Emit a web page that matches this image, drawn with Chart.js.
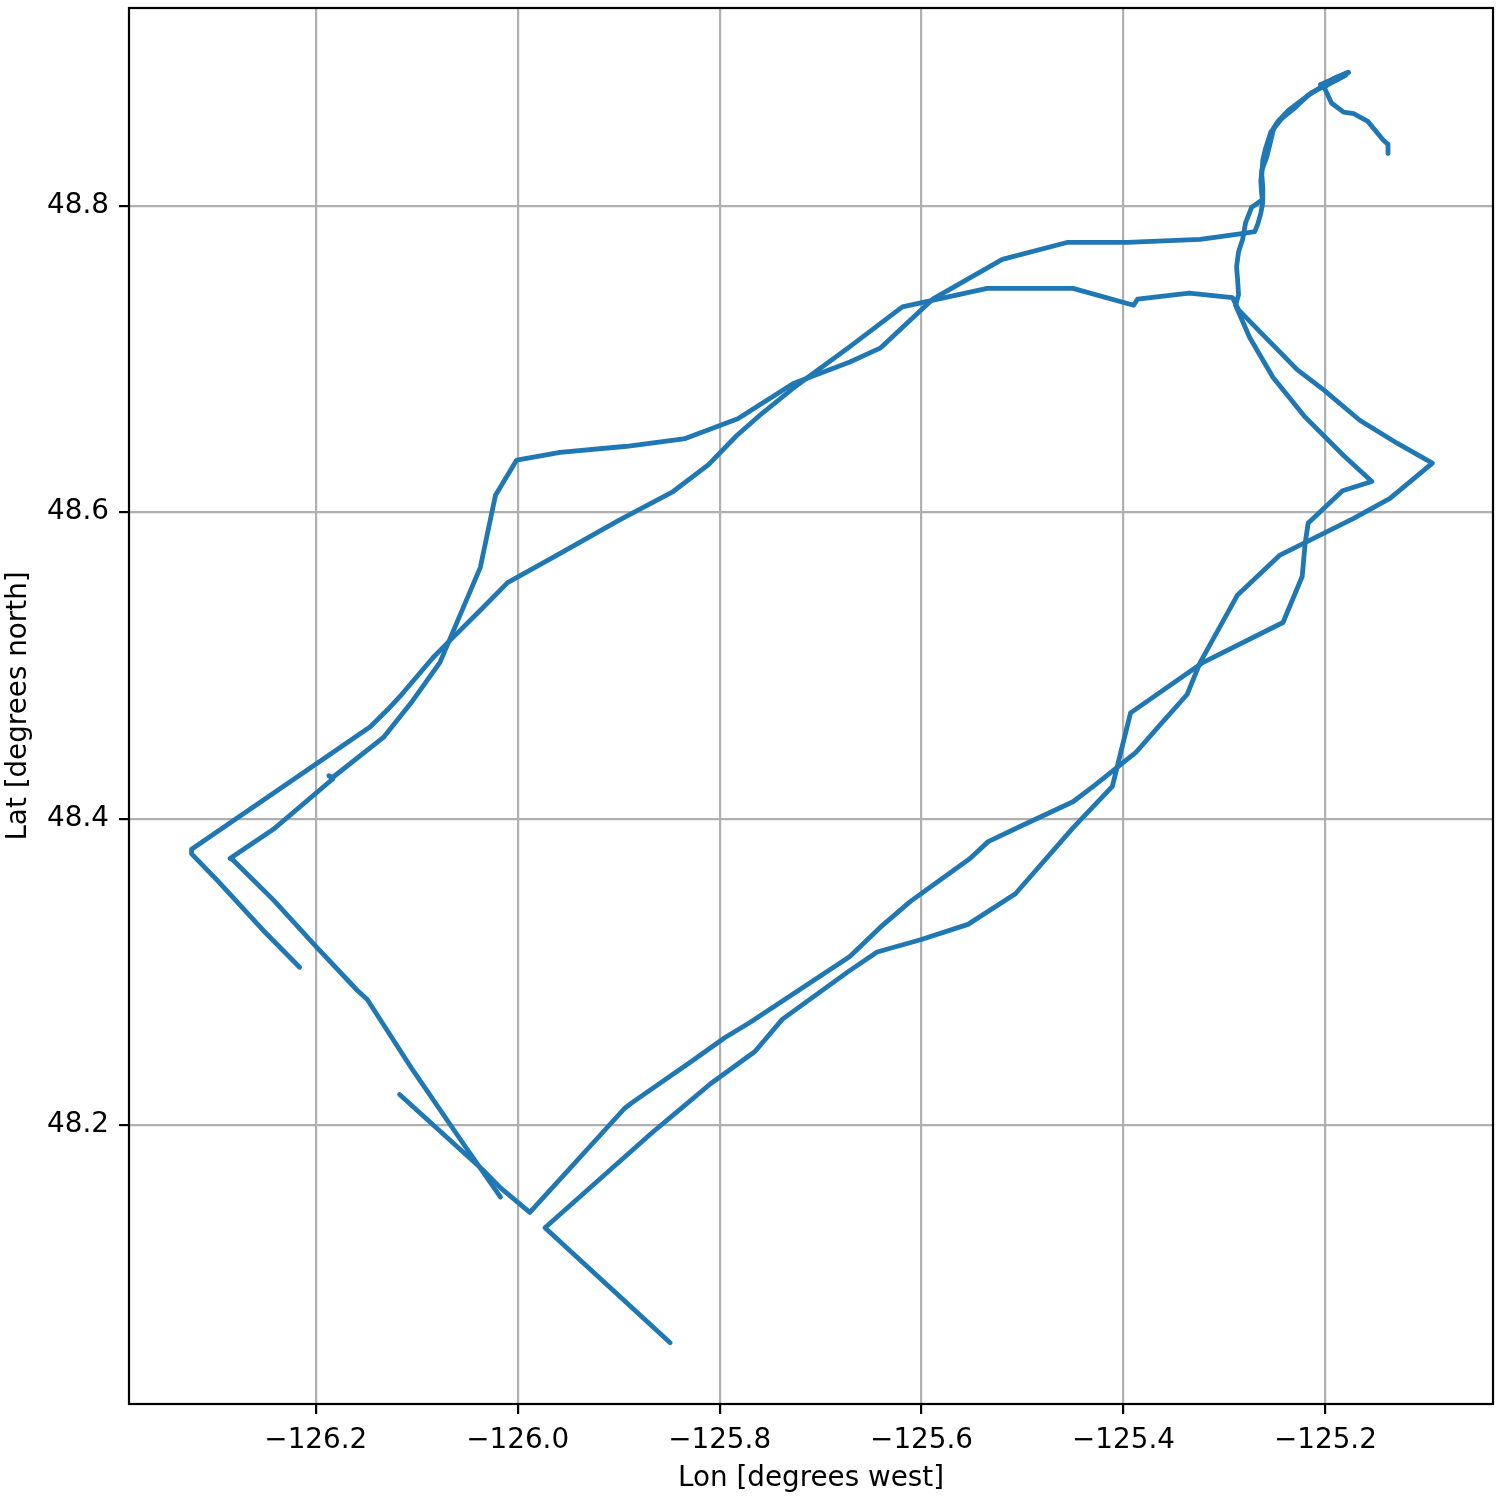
<!DOCTYPE html>
<html>
<head>
<meta charset="utf-8">
<script src="https://cdn.jsdelivr.net/npm/chart.js@4"></script>
<style>
  html, body { margin: 0; padding: 0; background: #fff; }
  canvas { display: block; }
</style>
</head>
<body>
<canvas id="trackChart" width="1500" height="1500"></canvas>
<script>
// ship track, three logged legs (gaps between them)
const lonLeg1 = [-125.178, -125.205, -125.180, -125.203, -125.189, -125.179, -125.201, -125.213, -125.225, -125.237, -125.247,
  -125.251, -125.255, -125.258, -125.263, -125.264, -125.263, -125.262, -125.264, -125.267, -125.270,
  -125.281, -125.324, -125.396, -125.456, -125.520, -125.589, -125.641, -125.671, -125.727, -125.782,
  -125.834, -125.892, -125.958, -126.001, -126.022, -126.037, -126.077, -126.104, -126.133, -126.183,
  -126.187, -126.183, -126.242, -126.285, -126.282, -126.242, -126.199, -126.159, -126.149, -126.104,
  -126.054, -126.017];
const latLeg1 = [48.887, 48.879, 48.885, 48.877, 48.882, 48.886, 48.878, 48.874, 48.868, 48.862, 48.855,
  48.851, 48.840, 48.832, 48.823, 48.816, 48.807, 48.802, 48.795, 48.788, 48.783,
  48.782, 48.778, 48.776, 48.776, 48.765, 48.739, 48.707, 48.698, 48.684, 48.661,
  48.648, 48.643, 48.639, 48.634, 48.611, 48.564, 48.502, 48.477, 48.453, 48.427,
  48.428, 48.426, 48.393, 48.374, 48.373, 48.347, 48.316, 48.288, 48.282, 48.236,
  48.188, 48.153];

const lonLeg2 = [-126.216, -126.252, -126.298, -126.323, -126.323, -126.199, -126.146, -126.129, -126.115, -126.084,
  -126.069, -126.037, -126.010, -125.961, -125.899, -125.847, -125.811, -125.783, -125.757, -125.725,
  -125.671, -125.619, -125.535, -125.450, -125.390, -125.386, -125.335, -125.292, -125.286, -125.228,
  -125.202, -125.166, -125.129, -125.094, -125.136, -125.172, -125.245, -125.287, -125.324, -125.337,
  -125.364, -125.388, -125.428, -125.450, -125.502, -125.534, -125.552, -125.611, -125.641, -125.671,
  -125.740, -125.770, -125.795, -125.827, -125.886, -125.894, -125.988, -126.017, -126.035, -126.117];
const latLeg2 = [48.303, 48.327, 48.360, 48.377, 48.380, 48.436, 48.460, 48.471, 48.481, 48.505,
  48.515, 48.536, 48.554, 48.572, 48.595, 48.613, 48.631, 48.650, 48.665, 48.682,
  48.708, 48.734, 48.746, 48.746, 48.735, 48.739, 48.743, 48.740, 48.732, 48.693,
  48.680, 48.660, 48.645, 48.632, 48.609, 48.596, 48.572, 48.546, 48.502, 48.481,
  48.461, 48.443, 48.422, 48.411, 48.395, 48.385, 48.374, 48.346, 48.329, 48.310,
  48.280, 48.267, 48.257, 48.242, 48.215, 48.211, 48.143, 48.159, 48.171, 48.220];

const lonLeg3 = [-125.849, -125.973, -125.867, -125.836, -125.809, -125.765, -125.738, -125.673, -125.644, -125.601,
  -125.554, -125.507, -125.450, -125.411, -125.393, -125.321, -125.242, -125.223, -125.220, -125.217,
  -125.183, -125.154, -125.182, -125.220, -125.252, -125.275, -125.289, -125.286, -125.287, -125.288,
  -125.286, -125.282, -125.279, -125.273, -125.262, -125.262, -125.263, -125.262, -125.259, -125.254,
  -125.243, -125.230, -125.217, -125.203, -125.190, -125.177, -125.192, -125.201, -125.194, -125.182,
  -125.172, -125.158, -125.143, -125.138, -125.138];
const latLeg3 = [48.058, 48.133, 48.195, 48.212, 48.227, 48.248, 48.269, 48.300, 48.313, 48.321,
  48.331, 48.351, 48.394, 48.421, 48.469, 48.502, 48.528, 48.558, 48.580, 48.593,
  48.614, 48.620, 48.637, 48.662, 48.688, 48.714, 48.735, 48.742, 48.752, 48.760,
  48.770, 48.778, 48.789, 48.799, 48.804, 48.812, 48.820, 48.830, 48.838, 48.848,
  48.857, 48.864, 48.872, 48.878, 48.882, 48.887, 48.883, 48.877, 48.867, 48.861,
  48.860, 48.855, 48.843, 48.840, 48.834];

const xTickValues = [-126.2, -126.0, -125.8, -125.6, -125.4, -125.2];
const yTickValues = [48.2, 48.4, 48.6, 48.8];

const legs = [[lonLeg1, latLeg1], [lonLeg2, latLeg2], [lonLeg3, latLeg3]];
const fontFamily = '"DejaVu Sans", sans-serif';

function minusLabel(v) {
  return (v < 0 ? '\u2212' : '') + Math.abs(v).toFixed(1);
}

// matplotlib-like box: all four spines on top
const framePlugin = {
  id: 'frame',
  afterDraw(chart) {
    const { ctx, chartArea: a } = chart;
    ctx.save();
    ctx.strokeStyle = '#000';
    ctx.lineWidth = 2.2;
    ctx.strokeRect(a.left, a.top, a.right - a.left, a.bottom - a.top);
    ctx.restore();
  }
};

new Chart(document.getElementById('trackChart'), {
  type: 'scatter',
  data: {
    datasets: legs.map(([lon, lat]) => ({
      data: lon.map((x, i) => ({ x: x, y: lat[i] })),
      showLine: true,
      borderColor: '#1f77b4',
      borderWidth: 4.8,
      borderJoinStyle: 'round',
      borderCapStyle: 'round',
      pointRadius: 0,
      tension: 0
    }))
  },
  options: {
    responsive: false,
    animation: false,
    devicePixelRatio: 1,
    layout: { padding: { top: 8, right: 7, left: 0, bottom: 0 } },
    plugins: { legend: { display: false }, tooltip: { enabled: false } },
    scales: {
      x: {
        type: 'linear',
        min: -126.385,
        max: -125.034,
        afterBuildTicks: (scale) => { scale.ticks = xTickValues.map(v => ({ value: v })); },
        afterFit: (scale) => { scale.height = 96; scale.paddingLeft = 0; scale.paddingRight = 0; },
        border: { display: false },
        grid: { color: '#b0b0b0', lineWidth: 2.2, tickColor: '#000', tickWidth: 2.2, tickLength: 10 },
        ticks: { callback: minusLabel, color: '#000', padding: 10, maxRotation: 0, autoSkip: false,
                 font: { family: fontFamily, size: 27.8 } },
        title: { display: true, text: 'Lon [degrees west]', color: '#000', padding: { top: 0, bottom: 5 },
                 font: { family: fontFamily, size: 27.8 } }
      },
      y: {
        type: 'linear',
        min: 48.018,
        max: 48.929,
        afterBuildTicks: (scale) => { scale.ticks = yTickValues.map(v => ({ value: v })); },
        afterFit: (scale) => { scale.width = 129; scale.paddingTop = 0; scale.paddingBottom = 0; },
        border: { display: false },
        grid: { color: '#b0b0b0', lineWidth: 2.2, tickColor: '#000', tickWidth: 2.2, tickLength: 10 },
        ticks: { callback: (v) => v.toFixed(1), color: '#000', padding: 10, autoSkip: false,
                 font: { family: fontFamily, size: 27.8 } },
        title: { display: true, text: 'Lat [degrees north]', color: '#000', padding: { top: 2, bottom: 0 },
                 font: { family: fontFamily, size: 27.8 } }
      }
    }
  },
  plugins: [framePlugin]
});
</script>
</body>
</html>
